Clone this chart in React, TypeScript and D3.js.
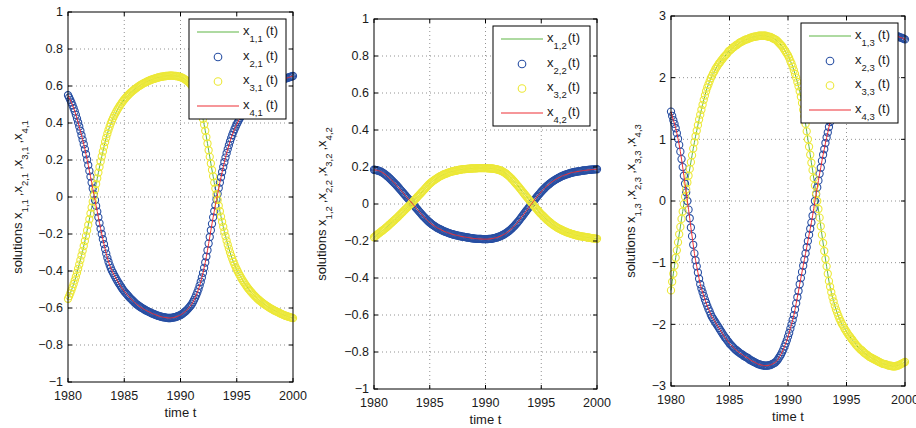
import React from 'react';
import * as d3 from 'd3';

const START_YEAR = 1980;
const STEP = 0.1; // solver output every 0.1 year, 1980..2000
const xTicks = [1980, 1985, 1990, 1995, 2000];
const yTicksUnit = [-1, -0.8, -0.6, -0.4, -0.2, 0, 0.2, 0.4, 0.6, 0.8, 1];
const yTicksWide = [-3, -2, -1, 0, 1, 2, 3];

// ---- column 1 ----
const x21 = [
  0.550, 0.538, 0.525, 0.511, 0.496, 0.480, 0.463, 0.444, 0.424, 0.403,
  0.381, 0.358, 0.334, 0.310, 0.285, 0.259, 0.231, 0.202, 0.172, 0.141,
  0.110, 0.078, 0.046, 0.014, -0.017, -0.048, -0.079, -0.110, -0.141, -0.171,
  -0.200, -0.228, -0.255, -0.281, -0.306, -0.329, -0.350, -0.368, -0.384, -0.398,
  -0.410, -0.422, -0.433, -0.444, -0.455, -0.465, -0.474, -0.484, -0.493, -0.502,
  -0.510, -0.517, -0.524, -0.531, -0.538, -0.545, -0.551, -0.557, -0.563, -0.569,
  -0.575, -0.580, -0.584, -0.589, -0.593, -0.597, -0.601, -0.605, -0.608, -0.612,
  -0.615, -0.618, -0.621, -0.624, -0.627, -0.630, -0.632, -0.635, -0.637, -0.640,
  -0.642, -0.644, -0.645, -0.647, -0.649, -0.650, -0.651, -0.652, -0.653, -0.654,
  -0.654, -0.654, -0.653, -0.652, -0.651, -0.650, -0.648, -0.646, -0.643, -0.641,
  -0.638, -0.634, -0.630, -0.625, -0.620, -0.615, -0.609, -0.602, -0.595, -0.588,
  -0.580, -0.569, -0.557, -0.544, -0.530, -0.515, -0.498, -0.479, -0.458, -0.435,
  -0.410, -0.383, -0.354, -0.322, -0.288, -0.252, -0.216, -0.180, -0.145, -0.110,
  -0.077, -0.045, -0.014, 0.017, 0.048, 0.078, 0.107, 0.135, 0.162, 0.188,
  0.213, 0.237, 0.259, 0.280, 0.300, 0.318, 0.335, 0.351, 0.366, 0.380,
  0.393, 0.405, 0.417, 0.428, 0.439, 0.449, 0.459, 0.468, 0.477, 0.486,
  0.494, 0.502, 0.509, 0.516, 0.523, 0.530, 0.536, 0.542, 0.548, 0.554,
  0.559, 0.564, 0.569, 0.574, 0.579, 0.583, 0.587, 0.591, 0.595, 0.599,
  0.603, 0.606, 0.610, 0.613, 0.616, 0.619, 0.622, 0.625, 0.628, 0.630,
  0.633, 0.635, 0.638, 0.640, 0.642, 0.644, 0.646, 0.648, 0.650, 0.652,
  0.654,
];
const x31 = [
  -0.550, -0.536, -0.521, -0.505, -0.488, -0.470, -0.451, -0.431, -0.410, -0.388,
  -0.365, -0.341, -0.316, -0.291, -0.265, -0.238, -0.210, -0.181, -0.151, -0.120,
  -0.089, -0.057, -0.025, 0.007, 0.039, 0.070, 0.101, 0.132, 0.162, 0.191,
  0.219, 0.246, 0.272, 0.297, 0.320, 0.342, 0.362, 0.380, 0.397, 0.412,
  0.426, 0.439, 0.451, 0.462, 0.473, 0.483, 0.493, 0.502, 0.511, 0.519,
  0.527, 0.534, 0.541, 0.548, 0.554, 0.560, 0.566, 0.571, 0.576, 0.581,
  0.586, 0.590, 0.595, 0.599, 0.603, 0.607, 0.610, 0.614, 0.617, 0.620,
  0.623, 0.626, 0.629, 0.631, 0.634, 0.636, 0.638, 0.640, 0.642, 0.644,
  0.646, 0.647, 0.649, 0.650, 0.651, 0.652, 0.653, 0.654, 0.655, 0.655,
  0.656, 0.656, 0.656, 0.656, 0.655, 0.655, 0.654, 0.653, 0.652, 0.650,
  0.648, 0.646, 0.643, 0.640, 0.636, 0.632, 0.627, 0.622, 0.616, 0.609,
  0.601, 0.592, 0.581, 0.569, 0.555, 0.539, 0.521, 0.500, 0.477, 0.451,
  0.422, 0.391, 0.358, 0.324, 0.289, 0.253, 0.217, 0.181, 0.146, 0.112,
  0.078, 0.046, 0.015, -0.016, -0.047, -0.077, -0.106, -0.134, -0.161, -0.187,
  -0.212, -0.236, -0.258, -0.279, -0.299, -0.317, -0.334, -0.350, -0.365, -0.379,
  -0.392, -0.404, -0.416, -0.427, -0.438, -0.448, -0.458, -0.467, -0.476, -0.485,
  -0.493, -0.501, -0.508, -0.515, -0.522, -0.529, -0.535, -0.541, -0.547, -0.553,
  -0.558, -0.563, -0.568, -0.573, -0.578, -0.582, -0.586, -0.590, -0.594, -0.598,
  -0.602, -0.605, -0.609, -0.612, -0.615, -0.618, -0.621, -0.624, -0.627, -0.630,
  -0.633, -0.636, -0.638, -0.641, -0.643, -0.645, -0.647, -0.649, -0.651, -0.653,
  -0.655,
];
const x11 = x31; // green line sits on the yellow circles
const x41 = x21; // red line sits on the blue circles

// ---- column 2 ----
const x22 = [
  0.185, 0.184, 0.183, 0.182, 0.180, 0.178, 0.175, 0.172, 0.168, 0.164,
  0.160, 0.155, 0.150, 0.145, 0.139, 0.133, 0.127, 0.121, 0.115, 0.109,
  0.103, 0.096, 0.089, 0.082, 0.075, 0.068, 0.061, 0.054, 0.047, 0.040,
  0.033, 0.026, 0.019, 0.012, 0.005, -0.002, -0.009, -0.016, -0.023, -0.030,
  -0.037, -0.044, -0.051, -0.058, -0.065, -0.071, -0.077, -0.083, -0.089, -0.095,
  -0.100, -0.105, -0.110, -0.114, -0.118, -0.122, -0.126, -0.130, -0.133, -0.136,
  -0.139, -0.142, -0.145, -0.148, -0.150, -0.152, -0.155, -0.157, -0.159, -0.161,
  -0.163, -0.165, -0.166, -0.168, -0.169, -0.171, -0.172, -0.173, -0.175, -0.176,
  -0.177, -0.178, -0.179, -0.180, -0.181, -0.182, -0.183, -0.184, -0.185, -0.186,
  -0.187, -0.187, -0.188, -0.188, -0.189, -0.189, -0.189, -0.190, -0.190, -0.190,
  -0.190, -0.190, -0.190, -0.189, -0.189, -0.188, -0.187, -0.186, -0.184, -0.183,
  -0.181, -0.179, -0.177, -0.175, -0.172, -0.169, -0.166, -0.163, -0.159, -0.155,
  -0.151, -0.146, -0.141, -0.136, -0.130, -0.124, -0.118, -0.111, -0.104, -0.097,
  -0.090, -0.082, -0.074, -0.066, -0.058, -0.050, -0.042, -0.034, -0.026, -0.018,
  -0.010, -0.002, 0.006, 0.014, 0.022, 0.030, 0.038, 0.045, 0.052, 0.059,
  0.066, 0.073, 0.079, 0.085, 0.091, 0.097, 0.102, 0.107, 0.112, 0.117,
  0.121, 0.125, 0.129, 0.133, 0.136, 0.140, 0.143, 0.146, 0.149, 0.152,
  0.154, 0.157, 0.159, 0.161, 0.163, 0.165, 0.167, 0.169, 0.170, 0.172,
  0.173, 0.174, 0.175, 0.176, 0.177, 0.178, 0.179, 0.180, 0.181, 0.182,
  0.182, 0.183, 0.184, 0.184, 0.185, 0.186, 0.186, 0.187, 0.187, 0.188,
  0.188,
];
const x32 = [
  -0.180, -0.175, -0.170, -0.165, -0.160, -0.156, -0.151, -0.146, -0.142, -0.137,
  -0.132, -0.127, -0.122, -0.116, -0.111, -0.105, -0.100, -0.094, -0.089, -0.083,
  -0.078, -0.072, -0.066, -0.060, -0.054, -0.048, -0.042, -0.036, -0.030, -0.024,
  -0.018, -0.012, -0.006, 0.000, 0.006, 0.013, 0.019, 0.026, 0.032, 0.039,
  0.045, 0.052, 0.058, 0.065, 0.071, 0.078, 0.084, 0.091, 0.097, 0.104,
  0.110, 0.115, 0.120, 0.125, 0.129, 0.133, 0.137, 0.141, 0.145, 0.149,
  0.152, 0.155, 0.158, 0.161, 0.163, 0.165, 0.168, 0.170, 0.172, 0.174,
  0.176, 0.177, 0.179, 0.180, 0.181, 0.182, 0.184, 0.185, 0.186, 0.187,
  0.188, 0.189, 0.189, 0.190, 0.190, 0.191, 0.191, 0.192, 0.192, 0.193,
  0.193, 0.193, 0.193, 0.194, 0.194, 0.194, 0.194, 0.194, 0.194, 0.194,
  0.194, 0.194, 0.193, 0.193, 0.193, 0.192, 0.192, 0.191, 0.190, 0.189,
  0.188, 0.186, 0.184, 0.182, 0.180, 0.177, 0.174, 0.170, 0.166, 0.161,
  0.156, 0.151, 0.145, 0.139, 0.133, 0.126, 0.119, 0.112, 0.105, 0.098,
  0.091, 0.083, 0.076, 0.068, 0.061, 0.053, 0.046, 0.038, 0.031, 0.023,
  0.016, 0.008, 0.001, -0.007, -0.014, -0.021, -0.028, -0.035, -0.042, -0.049,
  -0.055, -0.061, -0.067, -0.073, -0.079, -0.085, -0.090, -0.095, -0.100, -0.105,
  -0.110, -0.114, -0.118, -0.122, -0.126, -0.130, -0.133, -0.136, -0.139, -0.142,
  -0.145, -0.148, -0.150, -0.153, -0.155, -0.157, -0.159, -0.161, -0.163, -0.165,
  -0.167, -0.168, -0.170, -0.171, -0.173, -0.174, -0.175, -0.176, -0.177, -0.178,
  -0.179, -0.180, -0.181, -0.182, -0.183, -0.184, -0.185, -0.186, -0.187, -0.187,
  -0.188,
];
const x12 = x32;
const x42 = x22;

// ---- column 3 ----
const x23 = [
  1.45, 1.38, 1.31, 1.25, 1.18, 1.10, 1.01, 0.91, 0.80, 0.68,
  0.55, 0.41, 0.28, 0.14, 0.00, -0.14, -0.28, -0.43, -0.57, -0.71,
  -0.85, -0.96, -1.06, -1.16, -1.26, -1.35, -1.42, -1.48, -1.54, -1.60,
  -1.65, -1.70, -1.75, -1.79, -1.84, -1.88, -1.91, -1.94, -1.97, -2.00,
  -2.03, -2.06, -2.09, -2.12, -2.15, -2.18, -2.21, -2.23, -2.26, -2.28,
  -2.31, -2.33, -2.35, -2.37, -2.39, -2.41, -2.42, -2.44, -2.45, -2.47,
  -2.48, -2.49, -2.51, -2.52, -2.53, -2.54, -2.55, -2.57, -2.58, -2.59,
  -2.60, -2.61, -2.62, -2.63, -2.64, -2.65, -2.65, -2.66, -2.66, -2.67,
  -2.67, -2.67, -2.67, -2.67, -2.66, -2.66, -2.65, -2.64, -2.63, -2.62,
  -2.60, -2.58, -2.55, -2.52, -2.49, -2.45, -2.41, -2.36, -2.31, -2.26,
  -2.20, -2.14, -2.07, -2.00, -1.93, -1.85, -1.76, -1.66, -1.56, -1.46,
  -1.35, -1.25, -1.15, -1.05, -0.95, -0.85, -0.75, -0.65, -0.55, -0.45,
  -0.35, -0.24, -0.12, 0.00, 0.11, 0.22, 0.33, 0.44, 0.54, 0.65,
  0.75, 0.84, 0.94, 1.03, 1.11, 1.20, 1.28, 1.37, 1.45, 1.52,
  1.60, 1.66, 1.73, 1.79, 1.84, 1.90, 1.94, 1.98, 2.02, 2.06,
  2.10, 2.13, 2.16, 2.19, 2.22, 2.25, 2.28, 2.31, 2.33, 2.36,
  2.38, 2.40, 2.42, 2.44, 2.45, 2.47, 2.48, 2.50, 2.51, 2.53,
  2.54, 2.55, 2.56, 2.57, 2.58, 2.59, 2.60, 2.61, 2.62, 2.63,
  2.64, 2.64, 2.65, 2.66, 2.66, 2.67, 2.67, 2.67, 2.68, 2.68,
  2.68, 2.68, 2.67, 2.67, 2.67, 2.66, 2.65, 2.65, 2.64, 2.63,
  2.62,
];
const x33 = [
  -1.45, -1.31, -1.18, -1.05, -0.92, -0.80, -0.67, -0.54, -0.42, -0.29,
  -0.17, -0.05, 0.07, 0.19, 0.30, 0.41, 0.52, 0.63, 0.74, 0.85,
  0.95, 1.05, 1.14, 1.23, 1.32, 1.40, 1.48, 1.56, 1.64, 1.71,
  1.78, 1.84, 1.89, 1.94, 1.99, 2.03, 2.07, 2.10, 2.14, 2.17,
  2.20, 2.23, 2.25, 2.28, 2.30, 2.33, 2.35, 2.37, 2.39, 2.42,
  2.44, 2.45, 2.47, 2.49, 2.50, 2.52, 2.53, 2.54, 2.56, 2.57,
  2.58, 2.59, 2.60, 2.61, 2.62, 2.62, 2.63, 2.64, 2.65, 2.65,
  2.66, 2.66, 2.67, 2.67, 2.67, 2.68, 2.68, 2.68, 2.68, 2.68,
  2.68, 2.68, 2.67, 2.67, 2.66, 2.66, 2.65, 2.64, 2.63, 2.62,
  2.61, 2.59, 2.57, 2.55, 2.53, 2.51, 2.48, 2.45, 2.42, 2.39,
  2.36, 2.32, 2.27, 2.23, 2.18, 2.12, 2.06, 2.00, 1.93, 1.86,
  1.78, 1.69, 1.59, 1.48, 1.37, 1.25, 1.13, 1.00, 0.88, 0.75,
  0.62, 0.50, 0.37, 0.25, 0.12, 0.00, -0.13, -0.27, -0.41, -0.55,
  -0.68, -0.81, -0.94, -1.06, -1.18, -1.30, -1.39, -1.48, -1.56, -1.63,
  -1.70, -1.76, -1.81, -1.86, -1.91, -1.95, -1.99, -2.02, -2.06, -2.09,
  -2.12, -2.15, -2.18, -2.20, -2.23, -2.25, -2.28, -2.30, -2.33, -2.35,
  -2.37, -2.39, -2.41, -2.42, -2.44, -2.46, -2.47, -2.49, -2.50, -2.52,
  -2.53, -2.54, -2.55, -2.56, -2.57, -2.58, -2.59, -2.60, -2.61, -2.62,
  -2.63, -2.64, -2.64, -2.65, -2.65, -2.66, -2.67, -2.67, -2.67, -2.68,
  -2.68, -2.68, -2.68, -2.67, -2.67, -2.66, -2.65, -2.64, -2.63, -2.62,
  -2.61,
];
const x13 = x33;
const x43 = x23;

const GREEN = '#5fb544';
const BLUE = '#284fa3';
const YELLOW = '#ece838';
const RED = '#ee2f35';
const FONT = '"Liberation Sans", Arial, sans-serif';

const panels = [
  { col: 1, left: 68, right: 293, top: 12, bottom: 382, domain: [-1, 1], yTicks: yTicksUnit, labelGap: 46, parenGap: 3, series: [x11, x21, x31, x41] },
  { col: 2, left: 374, right: 597, top: 19, bottom: 389, domain: [-1, 1], yTicks: yTicksUnit, labelGap: 48, parenGap: 1, series: [x12, x22, x32, x42] },
  { col: 3, left: 671, right: 905, top: 16, bottom: 386, domain: [-3, 3], yTicks: yTicksWide, labelGap: 36, parenGap: 3, series: [x13, x23, x33, x43] },
];

const fmt = (v: number) => (v < 0 ? '\u2212' + Math.abs(v) : String(v));
const year = (i: number) => START_YEAR + i * STEP;

function Panel({ p }: { p: any }) {
  const x = d3.scaleLinear().domain([1980, 2000]).range([p.left, p.right]);
  const y = d3.scaleLinear().domain(p.domain).range([p.bottom, p.top]);
  const line = d3
    .line<number>()
    .x((d, i) => x(year(i)))
    .y((d) => y(d));
  const [s1, s2, s3, s4] = p.series;
  const tick = 4;

  // legend box
  const lw = 97;
  const lh = 100;
  const lx = p.right - 7 - lw;
  const ly = p.top + 7;
  const rows = [13, 38, 62.5, 87];
  const entries = [
    { kind: 'line', color: GREEN, n: 1 },
    { kind: 'circle', color: BLUE, n: 2 },
    { kind: 'circle', color: YELLOW, n: 3 },
    { kind: 'line', color: RED, n: 4 },
  ];

  return (
    <g>
      {/* grid */}
      <g stroke="#777" strokeWidth={0.8} strokeDasharray="1 3">
        {xTicks.slice(1, -1).map((t) => (
          <line key={'gx' + t} x1={x(t)} x2={x(t)} y1={p.top} y2={p.bottom} />
        ))}
        {p.yTicks.slice(1, -1).map((t: number) => (
          <line key={'gy' + t} x1={p.left} x2={p.right} y1={y(t)} y2={y(t)} />
        ))}
      </g>

      {/* data: green line, blue circles, yellow circles, red line */}
      <path d={line(s1) || ''} fill="none" stroke={GREEN} strokeWidth={1} />
      <g fill="none" stroke={BLUE} strokeWidth={1.1}>
        {s2.map((v: number, i: number) => (
          <circle key={i} cx={x(year(i))} cy={y(v)} r={3.6} />
        ))}
      </g>
      <g fill="none" stroke={YELLOW} strokeWidth={1.1}>
        {s3.map((v: number, i: number) => (
          <circle key={i} cx={x(year(i))} cy={y(v)} r={3.6} />
        ))}
      </g>
      <path d={line(s4) || ''} fill="none" stroke={RED} strokeWidth={1} />

      {/* box and inward ticks */}
      <rect x={p.left} y={p.top} width={p.right - p.left} height={p.bottom - p.top} fill="none" stroke="#000" strokeWidth={1} />
      <g stroke="#000" strokeWidth={1}>
        {xTicks.map((t) => (
          <g key={'tx' + t}>
            <line x1={x(t)} x2={x(t)} y1={p.bottom} y2={p.bottom - tick} />
            <line x1={x(t)} x2={x(t)} y1={p.top} y2={p.top + tick} />
          </g>
        ))}
        {p.yTicks.map((t: number) => (
          <g key={'ty' + t}>
            <line x1={p.left} x2={p.left + tick} y1={y(t)} y2={y(t)} />
            <line x1={p.right} x2={p.right - tick} y1={y(t)} y2={y(t)} />
          </g>
        ))}
      </g>

      {/* tick labels */}
      <g fontFamily={FONT} fontSize={12.5} fill="#1a1a1a">
        {xTicks.map((t) => (
          <text key={'lx' + t} x={x(t)} y={p.bottom + 18} textAnchor="middle">
            {t}
          </text>
        ))}
        {p.yTicks.map((t: number) => (
          <text key={'ly' + t} x={p.left - 5} y={y(t)} dy="0.35em" textAnchor="end">
            {fmt(t)}
          </text>
        ))}
        <text x={(p.left + p.right) / 2} y={p.bottom + 35} textAnchor="middle" fontSize={13}>
          time t
        </text>
      </g>

      {/* y label */}
      <text
        transform={`translate(${p.left - p.labelGap},${(p.top + p.bottom) / 2}) rotate(-90)`}
        textAnchor="middle"
        fontFamily={FONT}
        fontSize={13}
        fill="#1a1a1a"
      >
        solutions x
        {[1, 2, 3, 4].map((n) => (
          <React.Fragment key={n}>
            <tspan dy={6} fontSize={9.5}>{`${n},${p.col}`}</tspan>
            <tspan dy={-6} dx={3}>{n < 4 ? ',x' : ''}</tspan>
          </React.Fragment>
        ))}
      </text>

      {/* legend */}
      <rect x={lx} y={ly} width={lw} height={lh} fill="#fff" stroke="#000" strokeWidth={1} />
      {entries.map((e, k) => {
        const cy = ly + rows[k];
        return (
          <g key={'lg' + k}>
            {e.kind === 'line' ? (
              <line x1={lx + 8} x2={lx + 50} y1={cy} y2={cy} stroke={e.color} strokeWidth={1.2} />
            ) : (
              <circle cx={lx + 29} cy={cy} r={3.8} fill="none" stroke={e.color} strokeWidth={1.1} />
            )}
            <text x={lx + 54} y={cy + 2.5} fontFamily={FONT} fontSize={13} fill="#1a1a1a">
              x
              <tspan dy={7} fontSize={9.5}>{`${e.n},${p.col}`}</tspan>
              <tspan dy={-7} dx={p.parenGap}>(t)</tspan>
            </text>
          </g>
        );
      })}
    </g>
  );
}

export default function App() {
  return (
    <svg
      width={916}
      height={428}
      style={{ position: 'absolute', left: 0, top: 0, background: '#fff' }}
    >
      {panels.map((p) => (
        <Panel key={p.col} p={p} />
      ))}
    </svg>
  );
}
